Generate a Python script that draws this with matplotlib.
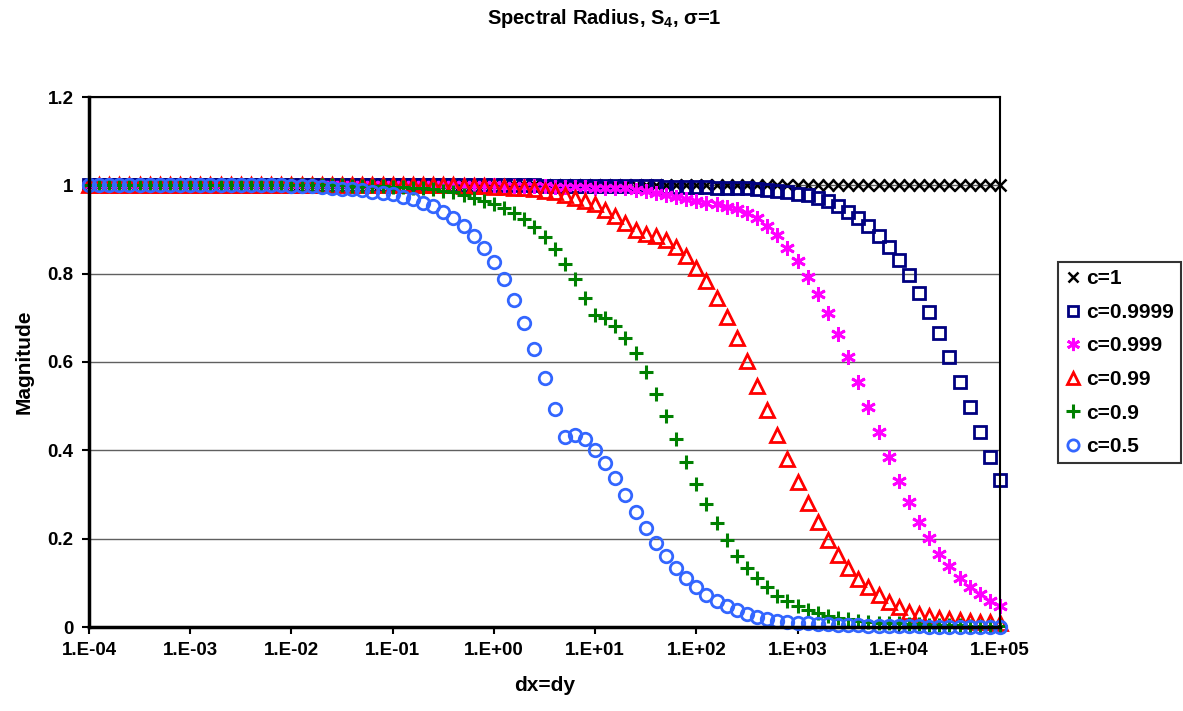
import numpy as np
import matplotlib
matplotlib.use("Agg")
import matplotlib.pyplot as plt
from matplotlib.ticker import FixedLocator, FuncFormatter, NullLocator

plt.rcParams['font.family'] = ['Liberation Sans', 'DejaVu Sans']
plt.rcParams['font.weight'] = 'bold'
plt.rcParams['mathtext.fontset'] = 'custom'
plt.rcParams['mathtext.rm'] = 'Liberation Sans:bold'
plt.rcParams['mathtext.default'] = 'rm'

# dx=dy sample points: 10 per decade, 1e-4 .. 1e5
dx = np.logspace(-4, 5, 91)

labels = ['c=1', 'c=0.9999', 'c=0.999', 'c=0.99', 'c=0.9', 'c=0.5']

c_1 = [
    1.0, 1.0, 1.0, 1.0, 1.0, 1.0, 1.0, 1.0, 1.0, 1.0,
    1.0, 1.0, 1.0, 1.0, 1.0, 1.0, 1.0, 1.0, 1.0, 1.0,
    1.0, 1.0, 1.0, 1.0, 1.0, 1.0, 1.0, 1.0, 1.0, 1.0,
    1.0, 1.0, 1.0, 1.0, 1.0, 1.0, 1.0, 1.0, 1.0, 1.0,
    1.0, 1.0, 1.0, 1.0, 1.0, 1.0, 1.0, 1.0, 1.0, 1.0,
    1.0, 1.0, 1.0, 1.0, 1.0, 1.0, 1.0, 1.0, 1.0, 1.0,
    1.0, 1.0, 1.0, 1.0, 1.0, 1.0, 1.0, 1.0, 1.0, 1.0,
    1.0, 1.0, 1.0, 1.0, 1.0, 1.0, 1.0, 1.0, 1.0, 1.0,
    1.0, 1.0, 1.0, 1.0, 1.0, 1.0, 1.0, 1.0, 1.0, 1.0, 1.0,
]

c_9999 = [
    1.0, 1.0, 1.0, 1.0, 1.0, 1.0, 1.0, 1.0, 1.0, 1.0,
    1.0, 1.0, 1.0, 1.0, 1.0, 1.0, 1.0, 1.0, 1.0, 1.0,
    1.0, 1.0, 1.0, 1.0, 1.0, 1.0, 1.0, 1.0, 1.0, 1.0,
    1.0, 1.0, 1.0, 1.0, 1.0, 1.0, 1.0, 1.0, 1.0, 1.0,
    1.0, 1.0, 1.0, 1.0, 1.0, 0.999, 0.999, 0.999, 0.999, 0.999,
    0.999, 0.998, 0.998, 0.998, 0.998, 0.998, 0.998, 0.997, 0.997, 0.997,
    0.996, 0.996, 0.995, 0.995, 0.994, 0.993, 0.992, 0.990, 0.988, 0.985,
    0.981, 0.977, 0.972, 0.965, 0.953, 0.940, 0.926, 0.909, 0.886, 0.861,
    0.832, 0.797, 0.757, 0.714, 0.665, 0.611, 0.555, 0.497, 0.441, 0.386, 0.333,
]

c_999 = [
    1.0, 1.0, 1.0, 1.0, 1.0, 1.0, 1.0, 1.0, 1.0, 1.0,
    1.0, 1.0, 1.0, 1.0, 1.0, 1.0, 1.0, 1.0, 1.0, 1.0,
    1.0, 1.0, 1.0, 1.0, 1.0, 1.0, 1.0, 1.0, 1.0, 1.0,
    1.0, 1.0, 1.0, 1.0, 1.0, 1.0, 1.0, 1.0, 1.0, 1.0,
    1.0, 0.999, 0.999, 0.998, 0.998, 0.998, 0.997, 0.997, 0.996, 0.996,
    0.995, 0.995, 0.994, 0.993, 0.989, 0.987, 0.983, 0.978, 0.973, 0.969,
    0.965, 0.961, 0.957, 0.952, 0.946, 0.937, 0.925, 0.909, 0.888, 0.857,
    0.829, 0.793, 0.755, 0.712, 0.663, 0.611, 0.554, 0.499, 0.441, 0.386,
    0.331, 0.284, 0.238, 0.201, 0.165, 0.137, 0.112, 0.091, 0.075, 0.060, 0.048,
]

c_99 = [
    1.0, 1.0, 1.0, 1.0, 1.0, 1.0, 1.0, 1.0, 1.0, 1.0,
    1.0, 1.0, 1.0, 1.0, 1.0, 1.0, 1.0, 1.0, 1.0, 1.0,
    1.0, 1.0, 1.0, 1.0, 1.0, 1.0, 1.0, 1.0, 1.0, 1.0,
    1.0, 1.0, 1.0, 1.0, 1.0, 1.0, 1.0, 0.999, 0.999, 0.998,
    0.997, 0.996, 0.995, 0.993, 0.991, 0.988, 0.984, 0.978, 0.972, 0.965,
    0.957, 0.945, 0.931, 0.915, 0.898, 0.890, 0.886, 0.876, 0.861, 0.840,
    0.813, 0.783, 0.744, 0.701, 0.654, 0.602, 0.546, 0.491, 0.435, 0.381,
    0.329, 0.281, 0.237, 0.198, 0.162, 0.134, 0.108, 0.090, 0.072, 0.057,
    0.046, 0.035, 0.029, 0.024, 0.020, 0.017, 0.015, 0.013, 0.012, 0.011, 0.010,
]

c_9 = [
    1.0, 1.0, 1.0, 1.0, 1.0, 1.0, 1.0, 1.0, 1.0, 1.0,
    1.0, 1.0, 1.0, 1.0, 1.0, 1.0, 1.0, 1.0, 1.0, 1.0,
    1.0, 1.0, 1.0, 1.0, 1.0, 1.0, 0.999, 0.999, 0.998, 0.998,
    0.997, 0.996, 0.995, 0.994, 0.992, 0.988, 0.984, 0.978, 0.972, 0.965,
    0.958, 0.949, 0.938, 0.924, 0.906, 0.884, 0.855, 0.823, 0.788, 0.746,
    0.706, 0.699, 0.681, 0.654, 0.620, 0.577, 0.528, 0.478, 0.425, 0.373,
    0.324, 0.278, 0.235, 0.197, 0.161, 0.133, 0.110, 0.090, 0.071, 0.059,
    0.048, 0.039, 0.031, 0.025, 0.021, 0.017, 0.014, 0.012, 0.010, 0.009,
    0.008, 0.007, 0.006, 0.005, 0.005, 0.004, 0.004, 0.003, 0.003, 0.003, 0.002,
]

c_5 = [
    1.0, 1.0, 1.0, 1.0, 1.0, 1.0, 1.0, 1.0, 1.0, 1.0,
    1.0, 1.0, 1.0, 1.0, 1.0, 1.0, 1.0, 1.0, 1.0, 1.0,
    0.999, 0.999, 0.998, 0.996, 0.993, 0.992, 0.991, 0.989, 0.986, 0.983,
    0.980, 0.974, 0.968, 0.961, 0.953, 0.940, 0.927, 0.909, 0.886, 0.859,
    0.827, 0.788, 0.741, 0.688, 0.629, 0.563, 0.494, 0.431, 0.435, 0.425,
    0.401, 0.372, 0.337, 0.300, 0.261, 0.225, 0.191, 0.161, 0.134, 0.112,
    0.091, 0.072, 0.059, 0.048, 0.038, 0.029, 0.023, 0.018, 0.014, 0.012,
    0.010, 0.008, 0.007, 0.006, 0.005, 0.004, 0.004, 0.003, 0.003, 0.002,
    0.002, 0.002, 0.002, 0.001, 0.001, 0.001, 0.001, 0.001, 0.001, 0.001, 0.001,
]

series = [c_1, c_9999, c_999, c_99, c_9, c_5]

# marker styles per series (Excel-like)
styles = [
    dict(marker='x', color='black', ms=8.5, mew=1.8),
    dict(marker='s', color='#000080', ms=8.5, mew=2.0),
    dict(marker=(6, 2, 0), color='#FF00FF', ms=10.5, mew=2.0),
    dict(marker='^', color='#FF0000', ms=9.5, mew=2.0),
    dict(marker='+', color='#008000', ms=10.5, mew=2.2),
    dict(marker='o', color='#3366FF', ms=9, mew=2.0),
]

fig = plt.figure(figsize=(11.83, 7.11), dpi=100)
ax = fig.add_axes([89 / 1183, 1 - 627 / 711, (1000 - 89) / 1183, (627 - 97) / 711])

for y, lab, st in zip(series, labels, styles):
    ax.plot(dx, y, linestyle='none', label=lab, clip_on=False,
            marker=st['marker'], color=st['color'], markersize=st['ms'],
            markeredgewidth=st['mew'], markerfacecolor='none')

ax.set_xscale('log')
ax.set_xlim(1e-4, 1e5)
ax.set_ylim(0, 1.2)

xt = [10.0 ** e for e in range(-4, 6)]
ax.xaxis.set_major_locator(FixedLocator(xt))
ax.xaxis.set_minor_locator(NullLocator())
ax.xaxis.set_major_formatter(FuncFormatter(lambda v, p: "1.E%+03d" % int(round(np.log10(v)))))
ax.set_yticks([0, 0.2, 0.4, 0.6, 0.8, 1.0, 1.2])
ax.yaxis.set_major_formatter(FuncFormatter(lambda v, p: "%g" % round(v, 1)))

ax.tick_params(axis='both', direction='out', length=5, width=1.5, labelsize=13.5, pad=6)
for lbl in ax.get_xticklabels() + ax.get_yticklabels():
    lbl.set_fontweight('bold')

ax.yaxis.grid(True, color='#606060', linewidth=1.0)
ax.set_axisbelow(True)
for side in ['left', 'bottom']:
    ax.spines[side].set_linewidth(2.5)
for side in ['right', 'top']:
    ax.spines[side].set_linewidth(1.5)

ax.set_xlabel('dx=dy', fontsize=15, fontweight='bold', labelpad=12)
ax.set_ylabel('Magnitude', fontsize=15, fontweight='bold', labelpad=10)

fig.text(604 / 1183, 1 - 18 / 711, 'Spectral Radius, S$_4$, σ=1', ha='center', va='center',
         fontsize=14.5, fontweight='bold')

leg = fig.legend(loc='upper left', bbox_to_anchor=(1058 / 1183, 1 - 262 / 711),
                 frameon=True, fancybox=False, fontsize=15, handlelength=0.7,
                 handletextpad=0.3, labelspacing=0.7, borderpad=0.35, borderaxespad=0,
                 markerscale=0.9)
leg.get_frame().set_edgecolor('black')
leg.get_frame().set_linewidth(1.5)
for t in leg.get_texts():
    t.set_fontweight('bold')

fig.savefig('out.png', dpi=100)
